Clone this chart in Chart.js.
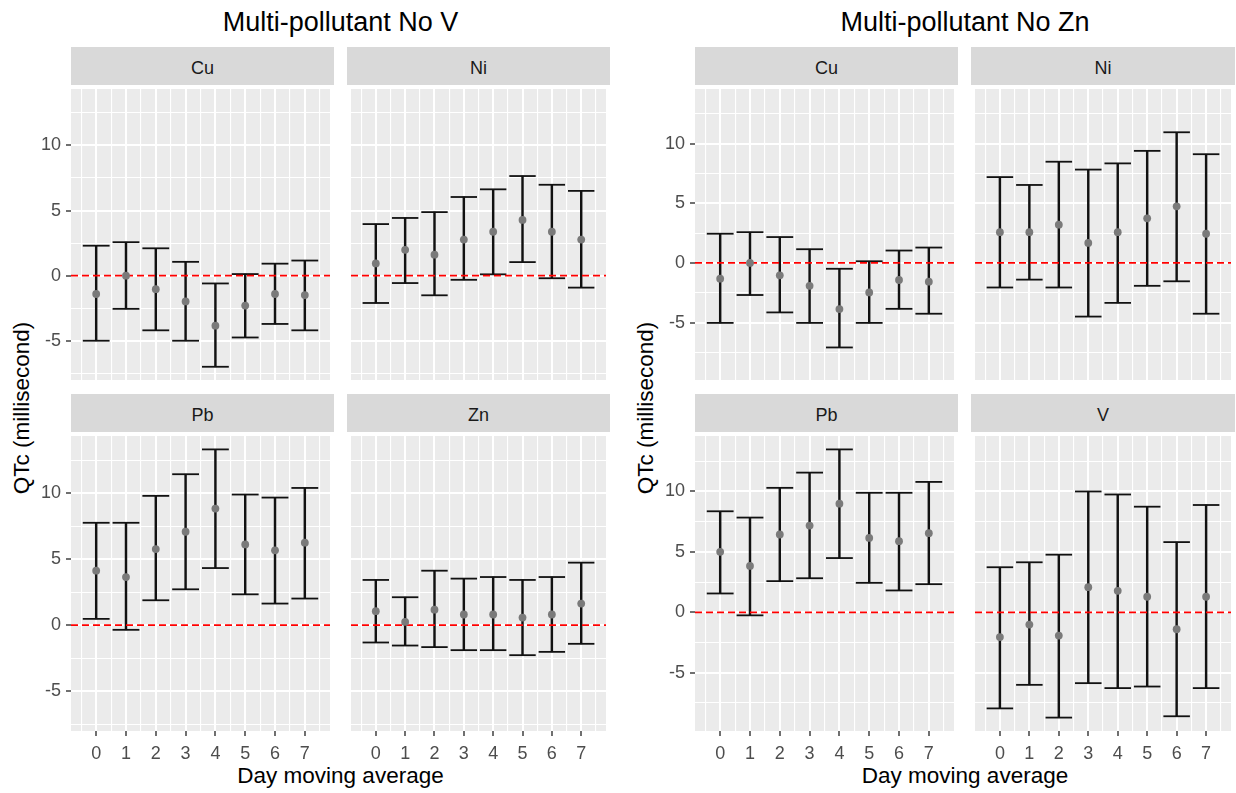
<!DOCTYPE html>
<html lang="en">
<head>
<meta charset="UTF-8">
<title>QTc multi-pollutant estimates</title>
<script src="https://cdn.jsdelivr.net/npm/chart.js"></script>
<style>
  * { margin: 0; padding: 0; box-sizing: border-box; }
  body {
    width: 1236px; height: 793px; background: #fff;
    position: relative; overflow: hidden;
    font-family: "Liberation Sans", Arial, sans-serif;
  }
  canvas, .label, .strip { position: absolute; }
  .label { line-height: 1; white-space: nowrap; transform: translate(-50%, -50%); color: #000; }
  .title { font-size: 27px; }
  .axis-title { font-size: 22.5px; }
  .y-title { transform: translate(-50%, -50%) rotate(-90deg); }
  .strip {
    background: #d9d9d9; color: #1a1a1a; font-size: 18px; line-height: 1;
    display: flex; align-items: center; justify-content: center; padding-top: 3px;
  }
</style>
</head>
<body>
<script>
// lag days on the x axis
const lagLabels = ['0', '1', '2', '3', '4', '5', '6', '7'];
const yMajorBreaks = [-5, 0, 5, 10];
const yMinorBreaks = [-7.5, -2.5, 2.5, 7.5, 12.5];

// model without V
const noV_Cu_est = [-1.41, 0.0, -1.04, -1.98, -3.84, -2.30, -1.41, -1.49];
const noV_Cu_lo  = [-5.00, -2.55, -4.20, -5.00, -7.00, -4.75, -3.71, -4.20];
const noV_Cu_hi  = [2.30, 2.57, 2.10, 1.06, -0.60, 0.12, 0.92, 1.16];

const noV_Ni_est = [0.94, 1.98, 1.61, 2.77, 3.37, 4.28, 3.37, 2.77];
const noV_Ni_lo  = [-2.10, -0.57, -1.51, -0.32, 0.10, 1.04, -0.20, -0.92];
const noV_Ni_hi  = [3.96, 4.43, 4.88, 6.04, 6.63, 7.65, 6.98, 6.51];

const noV_Pb_est = [4.13, 3.65, 5.77, 7.08, 8.84, 6.12, 5.67, 6.25];
const noV_Pb_lo  = [0.48, -0.35, 1.89, 2.72, 4.33, 2.34, 1.64, 2.02];
const noV_Pb_hi  = [7.76, 7.76, 9.80, 11.44, 13.32, 9.90, 9.67, 10.40];

const noV_Zn_est = [1.06, 0.25, 1.18, 0.81, 0.81, 0.58, 0.81, 1.64];
const noV_Zn_lo  = [-1.31, -1.54, -1.66, -1.89, -1.89, -2.27, -2.02, -1.41];
const noV_Zn_hi  = [3.43, 2.12, 4.13, 3.53, 3.65, 3.43, 3.65, 4.74];

// model without Zn
const noZn_Cu_est = [-1.32, 0.0, -1.04, -1.92, -3.87, -2.47, -1.43, -1.57];
const noZn_Cu_lo  = [-5.03, -2.69, -4.15, -5.03, -7.09, -5.03, -3.85, -4.26];
const noZn_Cu_hi  = [2.45, 2.58, 2.17, 1.15, -0.49, 0.14, 1.04, 1.29];

const noZn_Ni_est = [2.58, 2.58, 3.21, 1.68, 2.58, 3.74, 4.75, 2.45];
const noZn_Ni_lo  = [-2.06, -1.40, -2.06, -4.50, -3.35, -1.92, -1.54, -4.26];
const noZn_Ni_hi  = [7.20, 6.54, 8.49, 7.83, 8.35, 9.40, 10.96, 9.12];

const noZn_Pb_est = [5.01, 3.84, 6.44, 7.18, 8.99, 6.16, 5.89, 6.55];
const noZn_Pb_lo  = [1.56, -0.25, 2.58, 2.82, 4.49, 2.44, 1.81, 2.33];
const noZn_Pb_hi  = [8.36, 7.84, 10.30, 11.56, 13.48, 9.89, 9.89, 10.79];

const noZn_V_est = [-2.05, -1.01, -1.92, 2.08, 1.78, 1.29, -1.40, 1.29];
const noZn_V_lo  = [-7.95, -6.00, -8.71, -5.86, -6.27, -6.14, -8.60, -6.27];
const noZn_V_hi  = [3.73, 4.14, 4.77, 10.00, 9.75, 8.74, 5.81, 8.88];

const groups = [
  {
    title: 'Multi-pollutant No V', cols: [71, 347], widths: [263, 263],
    facets: [
      { name: 'Cu', est: noV_Cu_est, lo: noV_Cu_lo, hi: noV_Cu_hi },
      { name: 'Ni', est: noV_Ni_est, lo: noV_Ni_lo, hi: noV_Ni_hi },
      { name: 'Pb', est: noV_Pb_est, lo: noV_Pb_lo, hi: noV_Pb_hi },
      { name: 'Zn', est: noV_Zn_est, lo: noV_Zn_lo, hi: noV_Zn_hi }
    ]
  },
  {
    title: 'Multi-pollutant No Zn', cols: [695, 971], widths: [263, 264],
    facets: [
      { name: 'Cu', est: noZn_Cu_est, lo: noZn_Cu_lo, hi: noZn_Cu_hi },
      { name: 'Ni', est: noZn_Ni_est, lo: noZn_Ni_lo, hi: noZn_Ni_hi },
      { name: 'Pb', est: noZn_Pb_est, lo: noZn_Pb_lo, hi: noZn_Pb_hi },
      { name: 'V', est: noZn_V_est, lo: noZn_V_lo, hi: noZn_V_hi }
    ]
  }
];

// layout
const STRIP_TOP = [47, 394];
const PLOT_TOP = [85, 432];
const STRIP_H = 38;
const PLOT_H = 299;
const Y_AXIS_W = 71;
const X_AXIS_H = 40;

const CAP_HALF = 0.45;   // half width of the error bar caps, in lag units
const span = lagLabels.length - 1 + 2 * CAP_HALF;
const X_MIN = -CAP_HALF - 0.05 * span;
const X_MAX = lagLabels.length - 1 + CAP_HALF + 0.05 * span;
const xTickValues = lagLabels.flatMap((_, i) => [i - 0.5, i]).concat(lagLabels.length - 0.5);
const isInt = v => Number.isInteger(v);

Chart.defaults.font.family = '"Liberation Sans", Arial, sans-serif';

const panelBg = {
  id: 'panelBg',
  beforeDraw(chart) {
    const { ctx, chartArea: a } = chart;
    ctx.save();
    ctx.fillStyle = '#ebebeb';
    ctx.fillRect(a.left, a.top, a.right - a.left, a.bottom - a.top);
    ctx.restore();
  }
};

function addLabel(text, cls, x, y) {
  const d = document.createElement('div');
  d.className = 'label ' + cls;
  d.textContent = text;
  d.style.left = x + 'px';
  d.style.top = y + 'px';
  document.body.appendChild(d);
}

function capRadius(ctx) {
  const s = ctx.chart.scales.x;
  return s.getPixelForValue(CAP_HALF) - s.getPixelForValue(0);
}

groups.forEach(g => {
  const all = g.facets.flatMap(f => f.lo.concat(f.hi));
  const lo = Math.min(...all), hi = Math.max(...all);
  const yMin = lo - 0.05 * (hi - lo), yMax = hi + 0.05 * (hi - lo);
  const yTickValues = yMinorBreaks.concat(yMajorBreaks)
    .filter(v => v >= yMin && v <= yMax).sort((a, b) => a - b);

  const left = g.cols[0], right = g.cols[1] + g.widths[1];
  const cx = (left + right) / 2;
  addLabel(g.title, 'title', cx, 22);
  addLabel('Day moving average', 'axis-title', cx, 776);
  addLabel('QTc (millisecond)', 'axis-title y-title', left - 49, 408);

  g.facets.forEach((f, k) => {
    const col = k % 2, row = Math.floor(k / 2);
    const showY = col === 0, showX = row === 1;
    const px = g.cols[col], pw = g.widths[col];

    const strip = document.createElement('div');
    strip.className = 'strip';
    strip.textContent = f.name;
    Object.assign(strip.style, {
      left: px + 'px', top: STRIP_TOP[row] + 'px', width: pw + 'px', height: STRIP_H + 'px'
    });
    document.body.appendChild(strip);

    const canvas = document.createElement('canvas');
    const cw = pw + (showY ? Y_AXIS_W : 0);
    const ch = PLOT_H + (showX ? X_AXIS_H : 0);
    canvas.width = cw; canvas.height = ch;
    Object.assign(canvas.style, {
      left: (px - (showY ? Y_AXIS_W : 0)) + 'px', top: PLOT_TOP[row] + 'px',
      width: cw + 'px', height: ch + 'px'
    });
    document.body.appendChild(canvas);

    new Chart(canvas, {
      type: 'scatter',
      data: {
        datasets: [
          {
            type: 'scatter', order: 0,
            data: f.est.map((v, i) => ({ x: i, y: v })),
            pointRadius: 3.9, pointBackgroundColor: '#7a7a7a', pointBorderWidth: 0
          },
          {
            type: 'line', order: 1,
            data: [{ x: X_MIN, y: 0 }, { x: X_MAX, y: 0 }],
            borderColor: '#ff0000', borderWidth: 1.8, borderDash: [7, 4], pointRadius: 0
          },
          {
            type: 'scatter', order: 2,
            data: f.lo.map((v, i) => ({ x: i, y: v })).concat(f.hi.map((v, i) => ({ x: i, y: v }))),
            pointStyle: 'line', pointRadius: capRadius,
            pointBorderColor: '#111', pointBorderWidth: 1.8
          },
          {
            type: 'bar', order: 3,
            data: f.est.map((_, i) => ({ x: i, y: [f.lo[i], f.hi[i]] })),
            backgroundColor: '#111', borderWidth: 0, barThickness: 1.8
          }
        ]
      },
      options: {
        responsive: false,
        devicePixelRatio: 1,
        animation: false,
        layout: { padding: 0 },
        plugins: { legend: { display: false }, tooltip: { enabled: false } },
        scales: {
          x: {
            type: 'linear', min: X_MIN, max: X_MAX, offset: false,
            afterBuildTicks: s => { s.ticks = xTickValues.map(v => ({ value: v })); },
            ticks: {
              display: showX, autoSkip: false, maxRotation: 0, padding: 7,
              color: '#4d4d4d', font: { size: 18 },
              callback: v => isInt(v) ? lagLabels[v] : ''
            },
            grid: {
              offset: false, color: '#ffffff', drawTicks: showX, tickLength: 5, tickWidth: 1.4,
              lineWidth: c => (c.tick && isInt(c.tick.value)) ? 2 : 1.1,
              tickColor: c => (c.tick && isInt(c.tick.value)) ? '#333333' : 'rgba(0,0,0,0)'
            },
            border: { display: false },
            afterFit: s => {
              s.height = showX ? X_AXIS_H : 0;
              s.paddingLeft = s.paddingRight = 0;
            }
          },
          y: {
            type: 'linear', min: yMin, max: yMax,
            afterBuildTicks: s => { s.ticks = yTickValues.map(v => ({ value: v })); },
            ticks: {
              display: showY, autoSkip: false, padding: 5,
              color: '#4d4d4d', font: { size: 18 },
              callback: v => yMajorBreaks.includes(v) ? String(v) : ''
            },
            grid: {
              color: '#ffffff', drawTicks: showY, tickLength: 5, tickWidth: 1.4,
              lineWidth: c => (c.tick && yMajorBreaks.includes(c.tick.value)) ? 2 : 1.1,
              tickColor: c => (c.tick && yMajorBreaks.includes(c.tick.value)) ? '#333333' : 'rgba(0,0,0,0)'
            },
            border: { display: false },
            afterFit: s => {
              s.width = showY ? Y_AXIS_W : 0;
              s.paddingTop = s.paddingBottom = 0;
            }
          }
        }
      },
      plugins: [panelBg]
    });
  });
});
</script>
</body>
</html>
